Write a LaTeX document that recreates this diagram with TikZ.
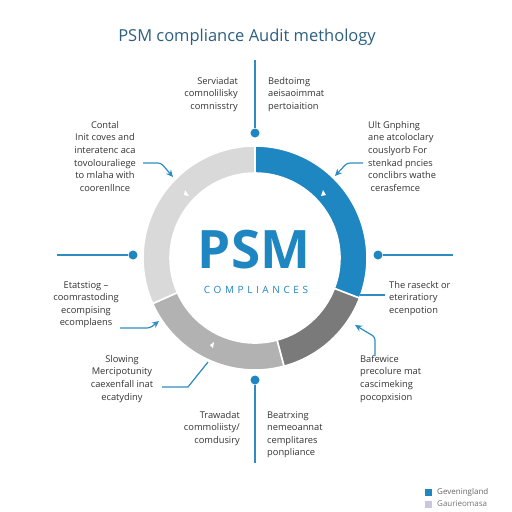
\documentclass[tikz,border=0pt]{standalone}
\usepackage{fontspec}
\setmainfont{Open Sans}
\newfontfamily\spacedfont[LetterSpace=36]{Open Sans}
\usetikzlibrary{arrows.meta}
\definecolor{psmblue}{HTML}{1E86C0}
\definecolor{lineblue}{HTML}{2F8CC0}
\definecolor{titlec}{HTML}{2D5F80}
\definecolor{labc}{HTML}{333333}
\definecolor{darkseg}{HTML}{7A7A7A}
\definecolor{midseg}{HTML}{B2B2B2}
\definecolor{lightseg}{HTML}{D9D9D9}
\definecolor{lavender}{HTML}{CBC6E0}
\tikzset{
  lbl/.style={font=\fontsize{9.3}{12.6}\selectfont, text=labc, inner sep=0pt},
  conn/.style={draw=lineblue, line width=1.2pt},
  arr/.style={conn, rounded corners=3pt, -{Stealth[length=7pt,width=6.5pt]}},
  dotnode/.style={circle, fill=psmblue, minimum size=9pt, inner sep=0pt},
  seg/.style={draw=white, line width=1.6pt},
}
\begin{document}
\begin{tikzpicture}[x=1pt,y=-1pt]
\useasboundingbox (0,0) rectangle (512,512);
\fill[white] (0,0) rectangle (512,512);
\begin{scope}
\clip (0,0) rectangle (512,512);
% title
\node[font=\fontsize{16.5}{20}\selectfont, text=titlec, inner sep=0pt] (title) at (247,37) {PSM compliance Audit methology};

% ring
\begin{scope}[shift={(255,258)}]
\def\Ro{112}\def\Ri{85}
\fill[psmblue,seg] (-90:\Ro) arc[start angle=-90,end angle=21,radius=\Ro] -- (21:\Ri) arc[start angle=21,end angle=-90,radius=\Ri] -- cycle;
\fill[darkseg,seg] (21:\Ro) arc[start angle=21,end angle=75,radius=\Ro] -- (75:\Ri) arc[start angle=75,end angle=21,radius=\Ri] -- cycle;
\fill[midseg,seg] (75:\Ro) arc[start angle=75,end angle=156,radius=\Ro] -- (156:\Ri) arc[start angle=156,end angle=75,radius=\Ri] -- cycle;
\fill[lightseg,seg] (156:\Ro) arc[start angle=156,end angle=270,radius=\Ro] -- (270:\Ri) arc[start angle=270,end angle=156,radius=\Ri] -- cycle;
% small white marks
\fill[white] (-70,-68) -- (-66,-62) -- (-71,-63) -- cycle;
\fill[white] (68,-68) -- (66,-62) -- (71,-63) -- cycle;
\fill[white] (-42,90) -- (-41,84) -- (-45,87) -- cycle;
\end{scope}

% centre text
\node[font=\fontsize{53}{53}\bfseries\selectfont, text=psmblue, inner sep=0pt, anchor=base] (psm) at (254,268) {PSM};
\node[font=\spacedfont\fontsize{10}{12}\selectfont, text=psmblue, inner sep=0pt] (comp) at (256,290) {COMPLIANCES};

% dots and lines
\node[dotnode] (dtop) at (255,133) {};
\coordinate (ttop) at (255,60);
\draw[conn] (ttop) -- (dtop);
\node[dotnode] (dleft) at (133,255) {};
\coordinate (lend) at (57,255);
\draw[conn] (lend) -- (dleft);
\node[dotnode] (dright) at (378,255) {};
\coordinate (rend) at (453,255);
\draw[conn] (dright) -- (rend);
\node[dotnode] (dbot) at (255,380) {};
\coordinate (bend) at (255,463);
\draw[conn] (dbot) -- (bend);

% labels
\node[lbl, anchor=north east, align=right] (tl) at (238,77) {Serviadat\\comnolilisky\\comnisstry};
\node[lbl, anchor=north west, align=left] (tr) at (268,77) {Bedtoimg\\aeisaoimmat\\pertoiaition};
\node[lbl, anchor=north, align=center] (ul) at (105,121) {Contal\\Init coves and\\interatenc aca\\tovolouraliege\\to mlaha with\\coorenllnce};
\node[lbl, anchor=north west, align=left] (ur) at (368,121) {Ult Gnphing\\ane atcoloclary\\couslyorb For\\stenkad pncies\\conclibrs wathe\\\ cerasfemce};
\node[lbl, anchor=north, align=center] (ml) at (86,281) {Etatstiog –\\coomrastoding\\ecompising\\ecomplaens};
\node[lbl, anchor=north west, align=left] (mr) at (389,281) {The raseckt or\\eteriratiory\\ecenpotion};
\node[lbl, anchor=north, align=center] (bl) at (122,355) {Slowing\\Mercipotunity\\caexenfall inat\\ecatydiny};
\node[lbl, anchor=north west, align=left] (br) at (360,355) {Bafewice\\precolure mat\\cascimeking\\pocopxision};
\node[lbl, anchor=north east, align=right] (bbl) at (240,411) {Trawadat\\commoliisty/\\comdusiry};
\node[lbl, anchor=north west, align=left] (bbr) at (267,411) {Beatrxing\\nemeoannat\\cemplitares\\ponpliance};

% arrows / leaders
\coordinate (ula) at (143,163); \coordinate (ulb) at (161,163); \coordinate (ulc) at (173,177);
\draw[arr] (ula) -- (ulb) -- (ulc);
\coordinate (ura) at (363,163); \coordinate (urb) at (347,163); \coordinate (urc) at (335,176);
\draw[arr] (ura) -- (urb) -- (urc);
\coordinate (mla) at (120,328); \coordinate (mlb) at (150,328); \coordinate (mlc) at (159,321);
\draw[arr] (mla) -- (mlb) -- (mlc);
\coordinate (mra) at (360,295); \coordinate (mrb) at (385,295);
\draw[conn] (mra) -- (mrb);
\coordinate (bra) at (375,356); \coordinate (brb) at (375,337); \coordinate (brc) at (355,325);
\draw[arr] (bra) -- (brb) -- (brc);
\coordinate (bla) at (162,387); \coordinate (blb) at (188,387); \coordinate (blc) at (208,362);
\draw[conn] (bla) -- (blb) -- (blc);

% legend
\node[fill=psmblue, minimum size=7pt, inner sep=0pt] (lg1) at (428,492) {};
\node[font=\fontsize{8}{10}\selectfont, text=black!60, anchor=west, inner sep=0pt] (lt1) at (437,492) {Geveningland};
\node[fill=lavender, minimum size=7pt, inner sep=0pt] (lg2) at (428,504) {};
\node[font=\fontsize{8}{10}\selectfont, text=black!55, anchor=west, inner sep=0pt] (lt2) at (437,504) {Gaurieomasa};
\end{scope}
\end{tikzpicture}
\end{document}
